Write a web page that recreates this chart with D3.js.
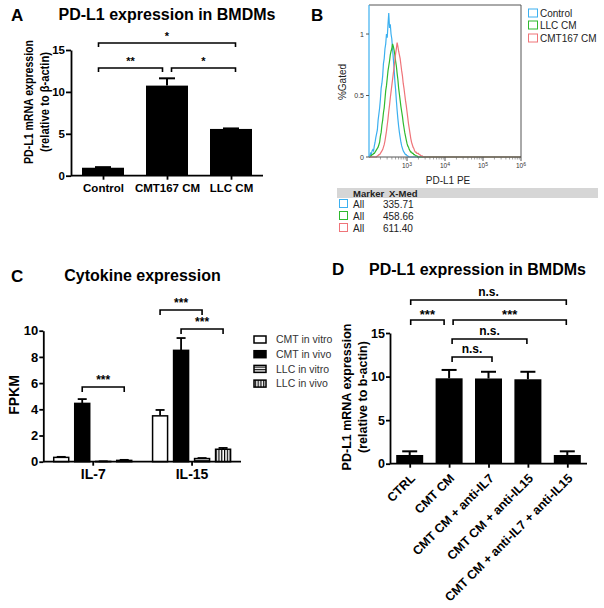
<!DOCTYPE html>
<html><head><meta charset="utf-8">
<script src="https://cdn.jsdelivr.net/npm/d3@7"></script>
<style>body{margin:0;background:#fff} svg{display:block} text{font-family:"Liberation Sans",Arial,Helvetica,sans-serif}</style>
</head><body><svg id="c" width="604" height="608"></svg>
<script>
// ---------- Panel A data ----------
const aCategories = ["Control", "CMT167 CM", "LLC CM"];
const aMeans = [0.95, 10.75, 5.58];
const aErrTop = [1.02, 11.62, 5.64];
const aYTicks = [0, 5, 10, 15];
const aBrackets = [["Control", "LLC CM", "*"], ["Control", "CMT167 CM", "**"], ["CMT167 CM", "LLC CM", "*"]];

// ---------- Panel B data (flow histograms, log10 PD-L1 PE vs %Gated) ----------
const bLogBins = [2.00,2.02,2.04,2.06,2.08,2.10,2.12,2.14,2.16,2.18,
  2.20,2.22,2.24,2.26,2.28,2.30,2.32,2.34,2.36,2.38,
  2.40,2.42,2.44,2.46,2.48,2.50,2.52,2.54,2.56,2.58,
  2.60,2.62,2.64,2.66,2.68,2.70,2.72,2.74,2.76,2.78,
  2.80,2.82,2.84,2.86,2.88,2.90,2.92,2.94,2.96,2.98,
  3.00,3.02,3.04,3.06,3.08,3.10,3.12,3.14,3.16,3.18,
  3.20,3.22,3.24,3.26,3.28,3.30,3.32,3.34,3.36,3.38,3.40,3.42,6.00];
const bControl = [0,.01,.03,.02,.05,.06,.05,.09,.12,.16,
  .19,.22,.30,.35,.40,.47,.56,.60,.66,.76,
  .80,.88,.92,1.00,.97,1.08,1.17,1.05,1.08,1.00,
  .96,.88,.80,.72,.62,.55,.46,.38,.31,.25,
  .20,.16,.12,.09,.07,.05,.04,.03,.02,.02,
  .01,.01,0,0,0,0,0,0,0,0,
  0,0,0,0,0,0,0,0,0,0,0,0,0];
const bLLC = [0,0,.01,.01,.02,.02,.03,.03,.04,.05,
  .06,.07,.08,.10,.12,.17,.20,.26,.30,.36,
  .40,.47,.54,.58,.64,.70,.74,.78,.83,.86,
  .88,.92,.90,.87,.83,.78,.74,.68,.63,.56,
  .51,.46,.41,.37,.33,.28,.24,.20,.17,.14,
  .11,.09,.08,.06,.05,.04,.04,.03,.03,.02,
  .02,.01,.01,.01,0,0,0,0,0,0,0,0,0];
const bCMT = [0,0,0,0,0,0,0,0,0,0,
  0,.01,.01,.02,.02,.03,.04,.05,.06,.08,
  .10,.13,.17,.21,.26,.31,.37,.42,.48,.53,
  .58,.63,.68,.73,.78,.84,.88,.93,.90,.86,
  .83,.80,.75,.70,.66,.60,.56,.51,.46,.42,
  .37,.32,.27,.23,.19,.15,.12,.10,.08,.07,
  .05,.04,.04,.03,.03,.03,.02,.02,.01,.01,.01,0,0];
const bSeriesNames = ["Control", "LLC CM", "CMT167 CM"];
const bColors = ["#3cb0f0", "#2fb92f", "#ef7479"];
const bMedians = ["335.71", "458.66", "611.40"];
const bXTickExp = [3, 4, 5, 6];
const bYTicks = [0, 0.5, 1];

// ---------- Panel C data ----------
const cGroups = ["IL-7", "IL-15"];
const cSeries = ["CMT in vitro", "CMT in vivo", "LLC in vitro", "LLC in vivo"];
const cIL7 = [0.33, 4.45, 0.02, 0.10];
const cIL7Err = [0.37, 4.78, 0.03, 0.14];
const cIL15 = [3.50, 8.50, 0.24, 0.95];
const cIL15Err = [3.95, 9.44, 0.28, 1.05];
const cYTicks = [0, 2, 4, 6, 8, 10];
const cBrackets = [["IL-7", "CMT in vivo", "LLC in vivo", "***"], ["IL-15", "CMT in vitro", "LLC in vitro", "***"], ["IL-15", "CMT in vivo", "LLC in vivo", "***"]];

// ---------- Panel D data ----------
const dCategories = ["CTRL", "CMT CM", "CMT CM + anti-IL7", "CMT CM + anti-IL15", "CMT CM + anti-IL7 + anti-IL15"];
const dMeans = [1.0, 9.8, 9.78, 9.69, 1.0];
const dErrTop = [1.42, 10.76, 10.55, 10.55, 1.42];
const dYTicks = [0, 5, 10, 15];
const dBrackets = [[0, 4, "n.s."], [0, 1, "***"], [1, 4, "***"], [1, 3, "n.s."], [1, 2, "n.s."]];

// ---------- drawing ----------
const svg = d3.select("#c");
svg.append("rect").attr("width", 604).attr("height", 608).attr("fill", "#fff");

const defs = svg.append("defs");
const ph = defs.append("pattern").attr("id", "hstripe").attr("patternUnits", "userSpaceOnUse").attr("width", 4).attr("height", 2.6);
ph.append("rect").attr("width", 4).attr("height", 2.6).attr("fill", "#fff");
ph.append("rect").attr("width", 4).attr("height", 1.1).attr("fill", "#000");
const pv = defs.append("pattern").attr("id", "vstripe").attr("patternUnits", "userSpaceOnUse").attr("width", 2.8).attr("height", 4);
pv.append("rect").attr("width", 2.8).attr("height", 4).attr("fill", "#fff");
pv.append("rect").attr("width", 1.2).attr("height", 4).attr("fill", "#000");

function styleAxis(g, fs) {
  g.selectAll("path,line").attr("stroke", "#000").attr("stroke-width", 1.8);
  g.selectAll("text").attr("font-weight", "bold").attr("font-size", fs).attr("fill", "#000")
    .attr("font-family", '"Liberation Sans",Arial,sans-serif');
}
function bracket(g, x1, x2, y, label, fs, tick, dy) {
  g.append("path").attr("d", `M${x1},${y + tick}V${y}H${x2}V${y + tick}`)
    .attr("fill", "none").attr("stroke", "#000").attr("stroke-width", 1.6);
  g.append("text").attr("x", (x1 + x2) / 2).attr("y", y + dy).attr("text-anchor", "middle")
    .attr("font-weight", "bold").attr("font-size", fs).text(label);
}
function panelLetter(x, y, t) {
  svg.append("text").attr("x", x).attr("y", y).attr("font-size", 17).attr("font-weight", "bold").text(t);
}
function title(x, y, t) {
  svg.append("text").attr("x", x).attr("y", y).attr("text-anchor", "middle").attr("font-size", 16).attr("font-weight", "bold").text(t);
}
function yLabel2(x1, x2, cy, l1, l2, fs, len1, len2) {
  const t1 = svg.append("text").attr("transform", `translate(${x1},${cy}) rotate(-90)`).attr("text-anchor", "middle")
    .attr("font-size", fs).attr("font-weight", "bold").text(l1);
  const t2 = svg.append("text").attr("transform", `translate(${x2},${cy}) rotate(-90)`).attr("text-anchor", "middle")
    .attr("font-size", fs).attr("font-weight", "bold").text(l2);
  if (len1) { t1.attr("textLength", len1).attr("lengthAdjust", "spacingAndGlyphs"); }
  if (len2) { t2.attr("textLength", len2).attr("lengthAdjust", "spacingAndGlyphs"); }
}

// ===== Panel A =====
{
  const g = svg.append("g");
  panelLetter(11, 21, "A");
  title(167, 20, "PD-L1 expression in BMDMs");
  const x = d3.scalePoint().domain(aCategories).range([71, 263]).padding(0.5);
  const y = d3.scaleLinear().domain([0, 15]).range([175.7, 50]);
  const bw = 42;
  g.selectAll(".bar").data(aCategories).join("rect")
    .attr("x", d => x(d) - bw / 2).attr("width", bw)
    .attr("y", (d, i) => y(aMeans[i])).attr("height", (d, i) => y(0) - y(aMeans[i])).attr("fill", "#000");
  aCategories.forEach((c, i) => {
    g.append("line").attr("x1", x(c)).attr("x2", x(c)).attr("y1", y(aMeans[i])).attr("y2", y(aErrTop[i])).attr("stroke", "#000").attr("stroke-width", 2);
    g.append("line").attr("x1", x(c) - 8).attr("x2", x(c) + 8).attr("y1", y(aErrTop[i])).attr("y2", y(aErrTop[i])).attr("stroke", "#000").attr("stroke-width", 2);
  });
  const ya = g.append("g").attr("transform", "translate(71,0)")
    .call(d3.axisLeft(y).tickValues(aYTicks).tickSize(5).tickSizeOuter(0).tickPadding(1).tickFormat(d3.format("d")));
  styleAxis(ya, 11.5);
  const xa = g.append("g").attr("transform", `translate(0,${y(0)})`)
    .call(d3.axisBottom(x).tickSize(4).tickSizeOuter(0).tickPadding(4));
  xa.select(".domain").attr("d", `M71,0H263`);
  styleAxis(xa, 11.5);
  yLabel2(33, 48.5, 102, "PD-L1 mRNA expression", "(relative to β-actin)", 12, 124, 100);
  // brackets
  const lv = [43, 68, 68];
  const off = [[-4.5, 4.5], [-4.5, -4.5], [4.5, 4.5]];
  aBrackets.forEach((b, i) => bracket(g, x(b[0]) + off[i][0], x(b[1]) + off[i][1], lv[i], b[2], 11, 4, -3));
}

// ===== Panel B =====
{
  const g = svg.append("g");
  panelLetter(311, 21, "B");
  const x = d3.scaleLog().domain([1e2, 1e6]).range([369, 521]);
  const y = d3.scaleLinear().domain([0, 1.236]).range([157, 5]);
  const line = d3.line().x((d, i) => x(Math.pow(10, bLogBins[i]))).y(d => y(d));
  [bControl, bLLC, bCMT].forEach((s, k) => {
    g.append("path").datum(s).attr("d", line).attr("fill", "none").attr("stroke", bColors[k]).attr("stroke-width", 1.2);
  });
  // frame
  g.append("path").attr("d", "M369,5H521V157H369").attr("fill", "none").attr("stroke", "#555").attr("stroke-width", 1);
  g.append("line").attr("x1", 369).attr("x2", 369).attr("y1", 5).attr("y2", 157).attr("stroke", bColors[0]).attr("stroke-width", 1.2);
  // y ticks
  bYTicks.forEach(t => {
    g.append("line").attr("x1", 366).attr("x2", 369).attr("y1", y(t)).attr("y2", y(t)).attr("stroke", "#555");
    g.append("text").attr("x", 364).attr("y", y(t) + 2.5).attr("text-anchor", "end").attr("font-size", 7).attr("fill", "#333").text(t);
  });
  // x ticks
  for (let k = 2; k <= 5; k++) {
    for (let m = 2; m <= 9; m++) {
      const v = m * Math.pow(10, k);
      g.append("line").attr("x1", x(v)).attr("x2", x(v)).attr("y1", 157).attr("y2", 159.5).attr("stroke", "#666").attr("stroke-width", 0.6);
    }
  }
  bXTickExp.forEach(e => {
    const xv = x(Math.pow(10, e));
    g.append("line").attr("x1", xv).attr("x2", xv).attr("y1", 157).attr("y2", 161).attr("stroke", "#555");
    const t = g.append("text").attr("x", xv).attr("y", 168).attr("text-anchor", "middle").attr("font-size", 6.5).attr("fill", "#333");
    t.append("tspan").text("10");
    t.append("tspan").attr("dy", -2.5).attr("font-size", 5).text(e);
  });
  g.append("text").attr("x", 448).attr("y", 183.5).attr("text-anchor", "middle").attr("font-size", 10).attr("fill", "#222").text("PD-L1 PE");
  g.append("text").attr("transform", "translate(346,82) rotate(-90)").attr("text-anchor", "middle").attr("font-size", 10).attr("fill", "#222").text("%Gated");
  // legend
  bSeriesNames.forEach((n, i) => {
    const yy = [9, 21, 34][i];
    g.append("rect").attr("x", 528.5).attr("y", yy).attr("width", 9).attr("height", 8).attr("fill", "#fff").attr("stroke", bColors[i]).attr("stroke-width", 1);
    g.append("text").attr("x", 540).attr("y", yy + 7.5).attr("font-size", 10).attr("fill", "#222").text(n);
  });
  // table
  g.append("rect").attr("x", 337).attr("y", 188).attr("width", 261).attr("height", 10).attr("fill", "#d6d6d6");
  g.append("text").attr("x", 353).attr("y", 196.5).attr("font-size", 9.5).attr("font-weight", "bold").attr("fill", "#222").text("Marker");
  g.append("text").attr("x", 389).attr("y", 196.5).attr("font-size", 9.5).attr("font-weight", "bold").attr("fill", "#222").text("X-Med");
  bMedians.forEach((m, i) => {
    const yy = 199.5 + i * 12;
    g.append("rect").attr("x", 339.5).attr("y", yy).attr("width", 8).attr("height", 8).attr("fill", "#fff").attr("stroke", bColors[i]).attr("stroke-width", 1);
    g.append("text").attr("x", 353).attr("y", yy + 8).attr("font-size", 10).attr("fill", "#222").text("All");
    g.append("text").attr("x", 383).attr("y", yy + 8).attr("font-size", 10).attr("fill", "#222").text(m);
  });
}

// ===== Panel C =====
{
  const g = svg.append("g");
  panelLetter(11, 281.5, "C");
  title(142.5, 281, "Cytokine expression");
  const x0 = d3.scalePoint().domain(cGroups).range([43.3, 241]).padding(0.5);
  const x1 = d3.scaleBand().domain(cSeries).range([-42, 42]).paddingInner(0.2857).paddingOuter(0.14285);
  const y = d3.scaleLinear().domain([0, 10]).range([461.7, 330.7]);
  const fills = ["#fff", "#000", "url(#hstripe)", "url(#vstripe)"];
  const vals = { "IL-7": cIL7, "IL-15": cIL15 };
  const errs = { "IL-7": cIL7Err, "IL-15": cIL15Err };
  cGroups.forEach(gr => {
    cSeries.forEach((s, i) => {
      const v = vals[gr][i], e = errs[gr][i];
      const bx = x0(gr) + x1(s), cx = bx + x1.bandwidth() / 2;
      g.append("line").attr("x1", cx).attr("x2", cx).attr("y1", y(v)).attr("y2", y(e)).attr("stroke", "#000").attr("stroke-width", 1.8);
      g.append("line").attr("x1", cx - 4.5).attr("x2", cx + 4.5).attr("y1", y(e)).attr("y2", y(e)).attr("stroke", "#000").attr("stroke-width", 1.8);
      g.append("rect").attr("x", bx).attr("width", x1.bandwidth()).attr("y", y(v)).attr("height", y(0) - y(v))
        .attr("fill", fills[i]).attr("stroke", "#000").attr("stroke-width", 1.5);
    });
  });
  const ya = g.append("g").attr("transform", "translate(43.3,0)")
    .call(d3.axisLeft(y).tickValues(cYTicks).tickSize(4).tickSizeOuter(0).tickPadding(1));
  styleAxis(ya, 13);
  const xa = g.append("g").attr("transform", `translate(0,${y(0)})`)
    .call(d3.axisBottom(x0).tickSize(4).tickSizeOuter(0).tickPadding(3));
  xa.select(".domain").attr("d", "M43.3,0H241");
  styleAxis(xa, 14);
  svg.append("text").attr("transform", "translate(18.5,395) rotate(-90)").attr("text-anchor", "middle")
    .attr("font-size", 14).attr("font-weight", "bold").text("FPKM");
  // brackets
  const lv = [387, 310, 329];
  cBrackets.forEach((b, i) => {
    const xa1 = x0(b[0]) + x1(b[1]) + x1.bandwidth() / 2;
    const xa2 = x0(b[0]) + x1(b[2]) + x1.bandwidth() / 2;
    bracket(g, xa1, xa2, lv[i], b[3], 12, 5, -3);
  });
  // legend
  cSeries.forEach((s, i) => {
    const cy = 339.5 + i * 14.7;
    g.append("rect").attr("x", 254).attr("y", cy - 3.5).attr("width", 12).attr("height", 7)
      .attr("fill", fills[i]).attr("stroke", "#000").attr("stroke-width", 1.5);
    g.append("text").attr("x", 276).attr("y", cy + 3.8).attr("font-size", 10.5).attr("fill", "#333").text(s);
  });
}

// ===== Panel D =====
{
  const g = svg.append("g");
  panelLetter(332, 275, "D");
  title(477.5, 275, "PD-L1 expression in BMDMs");
  const x = d3.scalePoint().domain(dCategories).range([390, 587]).padding(0.5);
  const y = d3.scaleLinear().domain([0, 15]).range([463.7, 333]);
  const bw = 27;
  dCategories.forEach((c, i) => {
    g.append("line").attr("x1", x(c)).attr("x2", x(c)).attr("y1", y(dMeans[i])).attr("y2", y(dErrTop[i])).attr("stroke", "#000").attr("stroke-width", 2);
    g.append("line").attr("x1", x(c) - 7.5).attr("x2", x(c) + 7.5).attr("y1", y(dErrTop[i])).attr("y2", y(dErrTop[i])).attr("stroke", "#000").attr("stroke-width", 2);
  });
  g.selectAll(".bar").data(dCategories).join("rect")
    .attr("x", d => x(d) - bw / 2).attr("width", bw)
    .attr("y", (d, i) => y(dMeans[i])).attr("height", (d, i) => y(0) - y(dMeans[i])).attr("fill", "#000");
  const ya = g.append("g").attr("transform", "translate(390,0)")
    .call(d3.axisLeft(y).tickValues(dYTicks).tickSize(4).tickSizeOuter(0).tickPadding(1));
  styleAxis(ya, 12.5);
  const xa = g.append("g").attr("transform", `translate(0,${y(0)})`)
    .call(d3.axisBottom(x).tickSize(4).tickSizeOuter(0).tickFormat(""));
  xa.select(".domain").attr("d", "M390,0H587");
  styleAxis(xa, 12);
  dCategories.forEach(c => {
    g.append("text").attr("transform", `translate(${x(c) + 3},476) rotate(-45)`).attr("text-anchor", "end")
      .attr("dy", "0.35em").attr("font-size", 12.5).attr("font-weight", "bold").text(c);
  });
  yLabel2(351, 366.5, 397, "PD-L1 mRNA expression", "(relative to b-actin)", 12.5);
  const lv = [300, 320, 320, 339, 357];
  const off = [[1, -1], [1, -5], [4, -1], [3, -1], [3, 3.5]];
  dBrackets.forEach((b, i) => {
    const isStar = b[2] === "***";
    bracket(g, x(dCategories[b[0]]) + off[i][0], x(dCategories[b[1]]) + off[i][1], lv[i], b[2], isStar ? 13 : 12, 5, isStar ? -1 : -4);
  });
}
</script>
</body></html>
